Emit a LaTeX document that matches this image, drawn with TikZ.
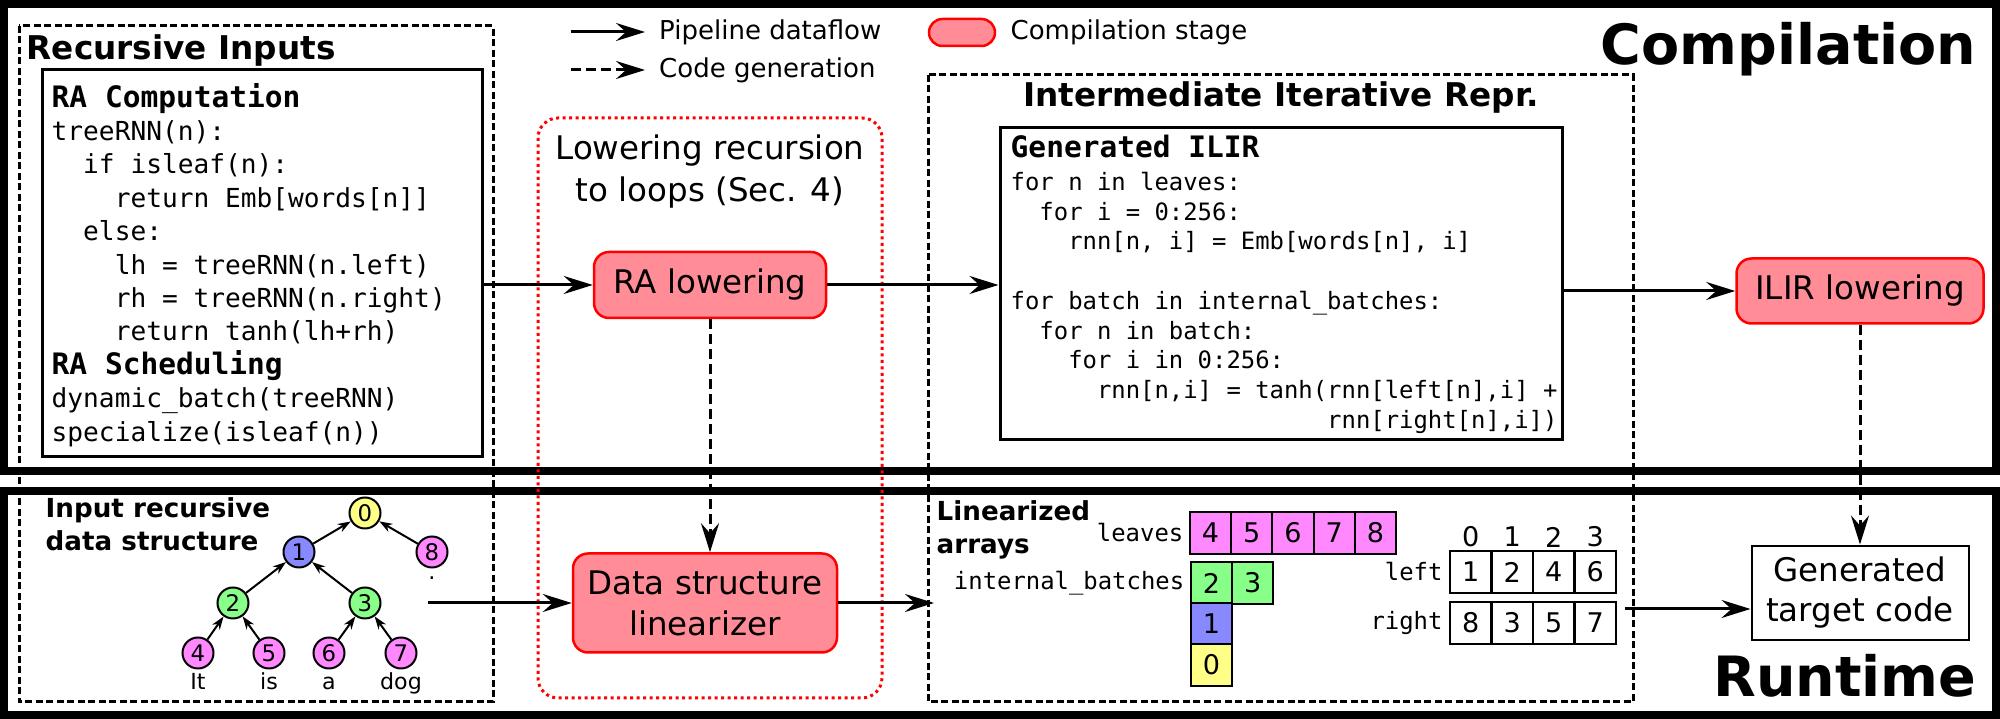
\documentclass[tikz,border=0pt]{standalone}
\usepackage{fontspec}
\setmainfont{DejaVu Sans}
\setmonofont{DejaVu Sans Mono}
\usetikzlibrary{arrows.meta,positioning}

\definecolor{stagepink}{RGB}{255,140,150}
\definecolor{leafpink}{RGB}{255,136,255}
\definecolor{batchgreen}{RGB}{136,255,136}
\definecolor{rootyellow}{RGB}{255,255,136}
\definecolor{midblue}{RGB}{136,136,255}
\newcommand{\fs}[2]{\fontsize{#1}{#2}\selectfont}
\newcommand{\ind}[1]{\hspace*{#1\fontcharwd\font`0}}

\begin{document}
\begin{tikzpicture}[
  x=0.1mm,y=-0.1mm,
  frame/.style={draw,line width=0.8mm},
  region/.style={draw,line width=0.3mm,dash pattern=on 0.7mm off 0.35mm},
  stage/.style={draw=red,fill=stagepink,line width=0.25mm,rounded corners=1.5mm,align=center,font=\fs{9.25}{11.7}},
  flow/.style={line width=0.3mm,-{Stealth[length=2.9mm,width=1.8mm,inset=1mm]}},
  gen/.style={flow,dash pattern=on 1mm off 0.5mm},
  codebox/.style={draw,line width=0.3mm,inner sep=0},
  code/.style={inner sep=0,align=left,font=\ttfamily\fs{7.45}{9.5}},
  ilircode/.style={inner sep=0,align=left,font=\ttfamily\fs{6.8}{8.45}},
  codehead/.style={font=\ttfamily\bfseries\fs{8.4}{9.5}},
  bigtitle/.style={inner sep=0,font=\bfseries\fs{15.8}{18}},
  sectitle/.style={inner sep=0,font=\bfseries\fs{9.3}{11}},
  subtitle/.style={inner sep=0,align=left,font=\bfseries\fs{7.45}{9.3}},
  legend/.style={font=\fs{7.4}{9}},
  treenode/.style={circle,draw,line width=0.2mm,minimum size=3.1mm,inner sep=0,font=\fs{6.5}{7}},
  treeedge/.style={line width=0.2mm,-{Stealth[length=1.3mm,width=0.9mm,inset=0.4mm]}},
  wordlbl/.style={inner sep=0,font=\fs{6.3}{7},text height=1.7mm,text depth=0.5mm,label distance=0.25mm},
  cell/.style={draw,line width=0.2mm,minimum width=4.12mm,minimum height=4.15mm,inner sep=0,font=\fs{7.7}{8}},
  arrlbl/.style={inner sep=0,font=\ttfamily\fs{6.8}{8}}
]
\useasboundingbox (0,0) rectangle (2000,719);

% the two halves
\draw[frame] (4,4) rectangle (1996,471);
\draw[frame] (4,491) rectangle (1996,715);
\node[bigtitle,anchor=base east] (comptitle) at (1977,65) {Compilation};
\node[bigtitle,anchor=base east] (runtitle) at (1977,697) {Runtime};

\draw[region] (19,26) rectangle (493,702);
\draw[region] (928,75) rectangle (1633,702);
\draw[red,line width=0.3mm,dash pattern=on 0.3mm off 0.35mm,rounded corners=2mm] (538,118) rectangle (882,698);

% legend
\coordinate (lgflow) at (571,32);
\coordinate (lgflowend) at (645,32);
\coordinate (lggen) at (571,70);
\coordinate (lggenend) at (645,70);
\draw[flow] (lgflow) -- (lgflowend) node[legend,right=0.1mm] (lgflowtxt) {Pipeline dataflow};
\draw[gen] (lggen) -- (lggenend) node[legend,right=0.1mm] (lggentxt) {Code generation};
\node[stage,minimum width=6.6mm,minimum height=2.7mm,rounded corners=1.35mm] (lgstage) at (962,32.5) {};
\node[legend,right=0.2mm of lgstage] (lgstagetxt) {Compilation stage};

% recursive inputs
\node[sectitle,anchor=base west] (rititle) at (26,60) {Recursive Inputs};
\node[codebox,minimum width=44.1mm,minimum height=38.7mm] (rabox) at (262.5,263.5) {};
\node[code,anchor=north west] (racode) at (51,82.5) {%
{\bfseries\fs{8.4}{9.5}RA Computation}\\
treeRNN(n):\\
\ind{2}if isleaf(n):\\
\ind{4}return Emb[words[n]]\\
\ind{2}else:\\
\ind{4}lh = treeRNN(n.left)\\
\ind{4}rh = treeRNN(n.right)\\
\ind{4}return tanh(lh+rh)\\
{\bfseries\fs{8.4}{9.5}RA Scheduling}\\
dynamic\_batch(treeRNN)\\
specialize(isleaf(n))};

\node[subtitle,anchor=north west] (treetitle) at (45,497) {Input recursive\\data structure};
\node[treenode,fill=rootyellow] (n0) at (365,513) {0};
\node[treenode,fill=midblue] (n1) at (299,552) {1};
\node[treenode,fill=leafpink,label={[wordlbl,label distance=-0.7mm]below:.}] (n8) at (432,552) {8};
\node[treenode,fill=batchgreen] (n2) at (233,603) {2};
\node[treenode,fill=batchgreen] (n3) at (365,603) {3};
\node[treenode,fill=leafpink,label={[wordlbl]below:It}] (n4) at (198,653) {4};
\node[treenode,fill=leafpink,label={[wordlbl]below:is}] (n5) at (269,653) {5};
\node[treenode,fill=leafpink,label={[wordlbl]below:a}] (n6) at (329,653) {6};
\node[treenode,fill=leafpink,label={[wordlbl]below:dog}] (n7) at (401,653) {7};
\foreach \c/\p in {n1/n0,n8/n0,n2/n1,n3/n1,n4/n2,n5/n2,n6/n3,n7/n3}
  \draw[treeedge] (\c) -- (\p);

% lowering
\node[inner sep=0,anchor=north,align=center,font=\fs{9.25}{11.95}] (lowertitle) at (710,134) {Lowering recursion\\to loops (Sec. 4)};
\node[stage,minimum width=23.2mm,minimum height=6.6mm] (ralow) at (710,285) {RA lowering};
\node[stage,minimum width=26.4mm,minimum height=9.9mm] (linear) at (705,603) {Data structure\\linearizer};

% intermediate representation
\node[sectitle,anchor=base] (irtitle) at (1281,107) {Intermediate Iterative Repr.};
\node[codebox,minimum width=56.2mm,minimum height=31.2mm] (ilirbox) at (1281,284) {};
\node[ilircode,anchor=north west] (ilirtext) at (1010,134.6) {%
{\bfseries\fs{8.4}{9.5}Generated ILIR}\\[0.9pt]
for n in leaves:\\
\ind{2}for i = 0:256:\\
\ind{4}rnn[n, i] = Emb[words[n], i]\\[8.45pt]
for batch in internal\_batches:\\
\ind{2}for n in batch:\\
\ind{4}for i in 0:256:\\
\ind{6}rnn[n,i] = tanh(rnn[left[n],i] +\\
\ind{22}rnn[right[n],i])};

\node[subtitle,anchor=north west] (arrtitle) at (936,500) {Linearized\\arrays};
\foreach \v [count=\i] in {4,5,6,7,8}
  \node[cell,fill=leafpink] (leaf\i) at (1169.4+41.2*\i,533) {\v};
\node[cell,fill=batchgreen] (batch2) at (1211.5,583) {2};
\node[cell,fill=batchgreen] (batch3) at (1252.7,583) {3};
\node[cell,fill=midblue] (batch1) at (1211.5,624) {1};
\node[cell,fill=rootyellow] (batch0) at (1211.5,665) {0};
\node[arrlbl,left=0.5mm of leaf1] (leaveslbl) {leaves};
\node[arrlbl,left=0.5mm of batch2] (batchlbl) {internal\_batches};
\foreach \k/\l/\r [count=\i] in {0/1/8,1/2/3,2/4/5,3/6/7}{
  \node[cell] (left\i) at (1429.25+41.5*\i,572) {\l};
  \node[cell] (right\i) at (1429.25+41.5*\i,623) {\r};
  \node[inner sep=0,font=\fs{7.7}{8}] (idx\i) at (1429.25+41.5*\i,537) {\k};
}
\node[arrlbl,left=0.6mm of left1] (leftlbl) {left};
\node[arrlbl,left=0.6mm of right1] (rightlbl) {right};

% runtime
\node[stage,minimum width=24.7mm,minimum height=6.5mm] (ilirlow) at (1860,291) {ILIR lowering};
\node[draw,line width=0.2mm,minimum width=21.7mm,minimum height=9.3mm,align=center,font=\fs{9.25}{11.4}] (target) at (1860,593) {Generated\\target code};

% connectors
\coordinate (treeout) at (428,603);
\coordinate (arrin) at (934,603);
\coordinate (arrout) at (1625,609);
\draw[flow] (rabox.east |- ralow) -- (ralow);
\draw[flow] (ralow) -- (ralow -| ilirbox.west);
\draw[flow] (ilirbox.east |- ilirlow) -- (ilirlow);
\draw[gen] (ralow.south) -- (ralow.south |- linear.north);
\draw[gen] (ilirlow) -- (target);
\draw[flow] (treeout) -- (linear);
\draw[flow] (linear) -- (arrin);
\draw[flow] (arrout) -- (target.west |- arrout);
\end{tikzpicture}
\end{document}
